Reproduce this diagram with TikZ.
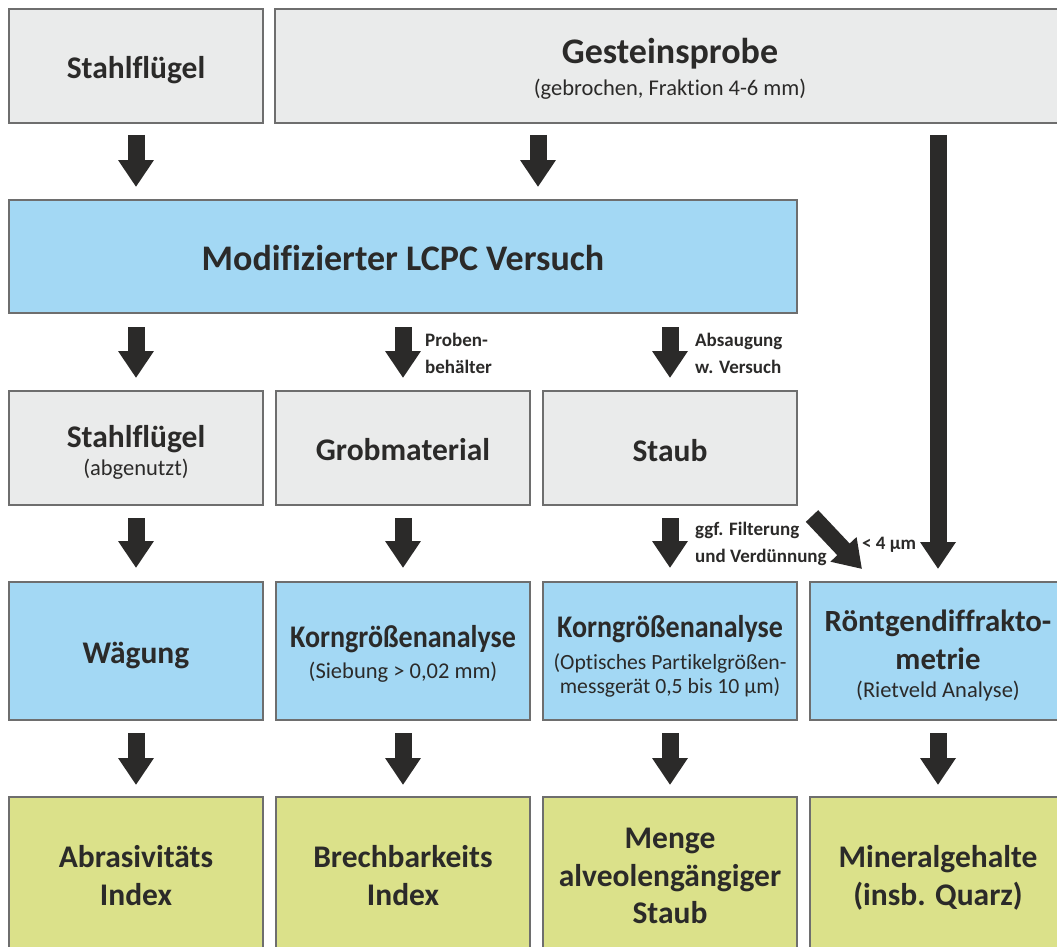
\documentclass[tikz,border=0pt]{standalone}
\usepackage{fontspec}
\setmainfont{Carlito}[Ligatures=NoCommon]
\usetikzlibrary{arrows.meta,calc}
\definecolor{boxgray}{HTML}{EAEBEB}
\definecolor{boxblue}{HTML}{A3D8F4}
\definecolor{boxgreen}{HTML}{DBE18A}
\definecolor{edgegray}{HTML}{6E6E6E}
\definecolor{ink}{HTML}{2B2A29}
\begin{document}
\begin{tikzpicture}[x=1pt,y=-1pt,
  box/.style={draw=edgegray,line width=1.5pt,outer sep=0pt,inner sep=0pt},
  graybox/.style={box,fill=boxgray},
  bluebox/.style={box,fill=boxblue},
  greenbox/.style={box,fill=boxgreen},
  txt/.style={text=ink,inner sep=0pt,anchor=base},
  ttl/.style={txt,font=\fontsize{31.5}{38}\selectfont\bfseries},
  big/.style={txt,font=\fontsize{36}{42}\selectfont\bfseries},
  sub/.style={txt,font=\fontsize{22.5}{27}\selectfont},
  subn/.style={txt,font=\fontsize{21.7}{26}\selectfont},
  blockarrow/.style={draw=ink,line width=17pt,-{Triangle[width=34pt,length=27pt,fill=ink]}},
  lbl/.style={text=ink,align=left,anchor=west,inner sep=0pt,font=\fontsize{19}{27}\selectfont\bfseries}
]
\clip (0,0) rectangle (1057,947);
\fill[white] (0,0) rectangle (1057,947);
% boxes
\node[graybox,minimum width=254pt,minimum height=114pt] (s1) at (136,66) {};
\node[graybox,minimum width=790pt,minimum height=114pt] (g) at (670,66) {};
\node[bluebox,minimum width=788pt,minimum height=113pt] (lcpc) at (403,256.5) {};
\node[graybox,minimum width=254pt,minimum height=114pt] (s3) at (136,448) {};
\node[graybox,minimum width=254pt,minimum height=114pt] (gm) at (403,448) {};
\node[graybox,minimum width=254pt,minimum height=114pt] (st) at (670,448) {};
\node[bluebox,minimum width=254pt,minimum height=138pt] (w) at (136,651) {};
\node[bluebox,minimum width=254pt,minimum height=138pt] (k1) at (403,651) {};
\node[bluebox,minimum width=254pt,minimum height=138pt] (k2) at (670,651) {};
\node[bluebox,minimum width=256pt,minimum height=138pt] (r4) at (938,651) {};
\node[greenbox,minimum width=254pt,minimum height=158pt] (a5) at (136,876) {};
\node[greenbox,minimum width=254pt,minimum height=158pt] (b5) at (403,876) {};
\node[greenbox,minimum width=254pt,minimum height=158pt] (m5) at (670,876) {};
\node[greenbox,minimum width=256pt,minimum height=158pt] (q5) at (938,876) {};
% texts
\node[ttl] (s1t) at (136,79) {Stahlflügel};
\node[big] (gt) at (670,64) {Gesteinsprobe};
\node[sub] (gs) at (670,96) {(gebrochen, Fraktion 4-6 mm)};
\node[big] (lcpct) at (403,270) {Modifizierter LCPC Versuch};
\node[ttl] (s3t) at (136,447) {Stahlflügel};
\node[sub] (s3s) at (136,475) {(abgenutzt)};
\node[ttl] (gmt) at (403,460) {Grobmaterial};
\node[ttl] (stt) at (670,461) {Staub};
\node[ttl] (wt) at (136,663) {Wägung};
\node[ttl] (k1t) at (403,647) {\scalebox{0.89}[1]{Korngrößenanalyse}};
\node[sub] (k1s) at (403,678) {(Siebung > 0,02 mm)};
\node[ttl] (k2t) at (670,637) {\scalebox{0.89}[1]{Korngrößenanalyse}};
\node[subn] (k2s) at (670,669) {(Optisches Partikelgrößen-};
\node[subn] (k2u) at (670,693) {messgerät 0,5 bis 10 µm)};
\node[ttl,font=\fontsize{30.8}{37}\selectfont\bfseries] (r4t) at (938,631) {Röntgendiffrakto-};
\node[ttl,font=\fontsize{30.8}{37}\selectfont\bfseries] (r4u) at (938,669) {metrie};
\node[sub] (r4s) at (938,697) {(Rietveld Analyse)};
\node[ttl] (a5t) at (136,867) {Abrasivitäts};
\node[ttl] (a5u) at (136,905) {Index};
\node[ttl] (b5t) at (403,867) {Brechbarkeits};
\node[ttl] (b5u) at (403,905) {Index};
\node[ttl] (m5t) at (670,848) {Menge};
\node[ttl] (m5u) at (670,886) {alveolengängiger};
\node[ttl] (m5v) at (670,923) {Staub};
\node[ttl] (q5t) at (938,867) {Mineralgehalte};
\node[ttl] (q5u) at (938,905) {(insb. Quarz)};
% arrows row 1
\draw[blockarrow] ($(s1.south)+(0,12)$) -- ($(lcpc.north -| s1.south)+(0,-13)$);
\draw[blockarrow] ($(g.south)+(-132,12)$) -- ($(lcpc.north)+(135,-13)$);
\draw[blockarrow] ($(g.south)+(268,12)$) -- ($(r4.north)+(0,-13)$);
% arrows row 2
\draw[blockarrow] ($(lcpc.south -| s3.north)+(0,14)$) -- ($(s3.north)+(0,-13)$);
\draw[blockarrow] ($(lcpc.south -| gm.north)+(0,14)$) -- ($(gm.north)+(0,-13)$);
\draw[blockarrow] ($(lcpc.south -| st.north)+(0,14)$) -- ($(st.north)+(0,-13)$);
% arrows row 3
\draw[blockarrow] ($(s3.south)+(0,13)$) -- ($(w.north)+(0,-14)$);
\draw[blockarrow] ($(gm.south)+(0,13)$) -- ($(k1.north)+(0,-14)$);
\draw[blockarrow] ($(st.south)+(0,13)$) -- ($(k2.north)+(0,-14)$);
\draw[blockarrow] ($(st.south east)+(15,11)$) -- ($(r4.north west)+(52,-13)$);
% arrows row 4
\draw[blockarrow] ($(w.south)+(0,13)$) -- ($(a5.north)+(0,-12)$);
\draw[blockarrow] ($(k1.south)+(0,13)$) -- ($(b5.north)+(0,-12)$);
\draw[blockarrow] ($(k2.south)+(0,13)$) -- ($(m5.north)+(0,-12)$);
\draw[blockarrow] ($(r4.south)+(0,13)$) -- ($(q5.north)+(0,-12)$);
% labels
\node[lbl] (l1) at (425,353) {Proben-\\behälter};
\node[lbl] (l2) at (695,353) {Absaugung\\w. Versuch};
\node[lbl] (l3) at (695,544) {ggf. Filterung\\und Verdünnung};
\node[lbl] (l4) at (862,545) {< 4 µm};
\end{tikzpicture}
\end{document}
